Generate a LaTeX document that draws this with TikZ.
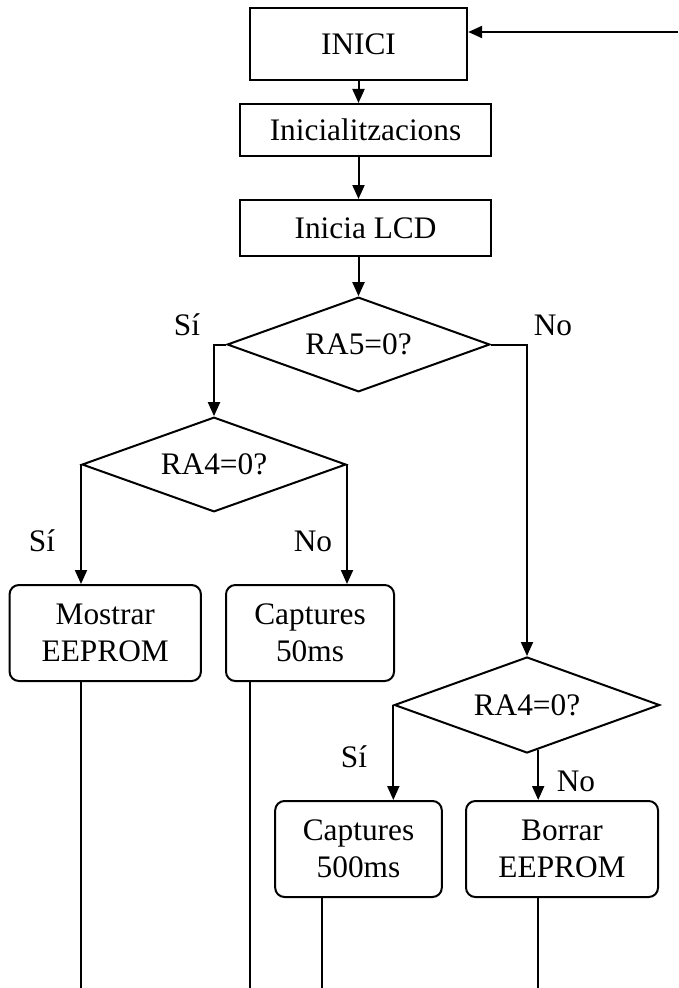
\documentclass[tikz,border=0pt]{standalone}
\usepackage{fontspec}
\setmainfont{Liberation Serif}
\usetikzlibrary{arrows.meta,shapes.geometric}

\tikzset{
    px/.style={x=0.75pt, y=-0.75pt},
    box/.style={draw, line width=1.5pt, inner sep=0pt, align=center},
    roundbox/.style={box, rounded corners=7pt},
    decision/.style={draw, line width=1.5pt, diamond, inner sep=0pt, aspect=2.8},
    line/.style={line width=1.5pt},
    arrow/.style={line width=1.5pt, -{Triangle[length=10.5pt,width=9pt]}},
}

\begin{document}
\begin{tikzpicture}[px, font=\fontsize{23.5}{27.5}\selectfont]
            \useasboundingbox (0, 0) rectangle (678, 988);
            %\draw[lightgray] (0, 0) grid[step=50] (678, 988);
            \node[box, minimum width=163pt, minimum height=54pt] (inici) at (358.5, 44) {INICI};
            \node[box, minimum width=188pt, minimum height=39pt] (init) at (365.5, 130) {Inicialitzacions};
            \node[box, minimum width=188pt, minimum height=42pt] (lcd) at (365.5, 228) {Inicia LCD};
            \node[decision, minimum width=197pt, minimum height=71pt] (ra5) at (358.5, 344.5) {RA5=0?};
            \node[decision, minimum width=198pt, minimum height=71pt] (ra4a) at (214, 464.5) {RA4=0?};
            \node[decision, minimum width=199pt, minimum height=72pt] (ra4b) at (527, 705) {RA4=0?};
            \node[roundbox, minimum width=143.5pt, minimum height=72pt] (mostrar) at (105.25, 633) {Mostrar\\EEPROM};
            \node[roundbox, minimum width=126pt, minimum height=72pt] (cap50) at (310, 633) {Captures\\50ms};
            \node[roundbox, minimum width=125pt, minimum height=72pt] (cap500) at (358.5, 849) {Captures\\500ms};
            \node[roundbox, minimum width=144pt, minimum height=72pt] (borrar) at (562, 849) {Borrar\\EEPROM};
            % labels of the branches
            \node (si1) at (187, 325) {Sí};
            \node (no1) at (553, 325) {No};
            \node (si2) at (42, 541) {Sí};
            \node (no2) at (313, 541) {No};
            \node (si3) at (354, 757) {Sí};
            \node (no3) at (576, 781) {No};
            % free ends
            \coordinate (ret) at (678, 32);
            \coordinate (bot) at (0, 988);
            \coordinate (out2) at (250, 988);
            \coordinate (out3) at (322, 988);
            % connectors
            \draw[arrow] (ret) -- (ret -| inici.east);
            \draw[arrow] (inici.south) -- (inici.south |- init.north);
            \draw[arrow] (inici.south |- init.south) -- (inici.south |- lcd.north);
            \draw[arrow] (inici.south |- lcd.south) -- (ra5.north);
            \draw[arrow] (ra5.west) -| (ra4a.north);
            \draw[arrow] (ra5.east) -| (ra4b.north);
            \draw[arrow] (ra4a.west) -- (ra4a.west |- mostrar.north);
            \draw[arrow] (ra4a.east) -- (ra4a.east |- cap50.north);
            \draw[arrow] (ra4b.west) -- (ra4b.west |- cap500.north);
            \draw[arrow] (ra4b.-76) -- (ra4b.-76 |- borrar.north);
            \draw[line] (ra4a.west |- mostrar.south) -- (ra4a.west |- bot);
            \draw[line] (out2 |- cap50.south) -- (out2);
            \draw[line] (out3 |- cap500.south) -- (out3);
            \draw[line] (ra4b.-76 |- borrar.south) -- (ra4b.-76 |- bot);
        \end{tikzpicture}
\end{document}
